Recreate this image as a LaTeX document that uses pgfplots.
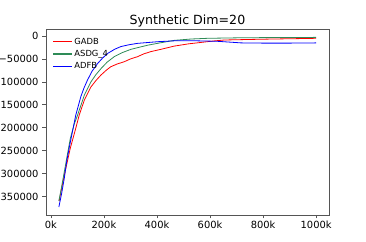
\documentclass[border=0pt]{standalone}
\usepackage{pgfplots}
\pgfplotsset{compat=1.18}
\usepackage{fontspec}
\setmainfont{DejaVu Sans}
\definecolor{mygreen}{RGB}{46,139,87}
\definecolor{spine}{RGB}{85,85,85}
\begin{document}
\begin{tikzpicture}
\begin{axis}[
  name=ax,
  scale only axis,
  width=283bp, height=186bp,
  xmin=-18500, xmax=1048500,
  ymin=-390500, ymax=15300,
  axis line style={spine, line width=0.8bp},
  every tick/.style={spine, line width=0.6bp},
  tick align=outside, tick pos=left,
  major tick length=3.5bp,
  xtick={0,200000,400000,600000,800000,1000000},
  xticklabels={0k,200k,400k,600k,800k,1000k},
  ytick={-350000,-300000,-250000,-200000,-150000,-100000,-50000,0},
  yticklabels={−350000,−300000,−250000,−200000,−150000,−100000,−50000,0},
  scaled ticks=false,
  tick label style={font=\fontsize{9.9bp}{11bp}\selectfont, text=black},
  yticklabel style={xshift=-0.5bp},
  xticklabel style={yshift=1bp},
  title={Synthetic Dim=20},
  title style={font=\fontsize{12.6bp}{14bp}\selectfont, yshift=-7.5bp},
  legend style={draw=none, fill=none, at={(0.015,0.975)}, anchor=north west,
    font=\fontsize{8.4bp}{10bp}\selectfont, row sep=0.6bp},
  legend cell align=left,
  legend image code/.code={\fill[#1, draw=none] (0bp,-0.6bp) rectangle (19bp,0.6bp);},
]
\addplot[red, line width=0.8bp] coordinates {
(31000,-360000) (50000,-305000) (73000,-245000) (92000,-205000) (107000,-172000)
(126000,-140000) (151000,-111000) (170000,-97000) (189000,-85000) (210000,-74000)
(226000,-67000) (250000,-61000) (277000,-56000) (300000,-50000) (327000,-45000)
(350000,-39000) (377000,-34000) (415000,-29000) (465000,-22000) (520000,-17000)
(566000,-14000) (610000,-11000) (654000,-8700) (750000,-7500) (842000,-6500)
(920000,-5800) (1000000,-5000)};
\addlegendentry{GADB}
\addplot[mygreen, line width=0.8bp] coordinates {
(30000,-360000) (40000,-330000) (54000,-285000) (73000,-224000) (88000,-192000)
(101000,-172000) (126000,-129000) (151000,-100000) (170000,-84000) (189000,-71000)
(212000,-57000) (239000,-45000) (270000,-36000) (302000,-29000) (365000,-20000)
(415000,-14600) (465000,-9500) (530000,-6500) (591000,-5000) (700000,-4000)
(800000,-3500) (1000000,-3000)};
\addlegendentry{ASDG\_4}
\addplot[blue, line width=0.8bp] coordinates {
(30000,-373000) (40000,-345000) (50000,-312000) (60000,-272000) (70000,-241000)
(80000,-212000) (94000,-172000) (113000,-132000) (125000,-113000) (138000,-96000)
(155000,-77000) (176000,-60000) (195000,-48000) (214000,-38000) (240000,-29000)
(264000,-23000) (295000,-19000) (327000,-16000) (403000,-12400) (465000,-10500)
(550000,-10500) (629000,-11600) (717000,-15000) (800000,-15500) (900000,-15500)
(1000000,-15000)};
\addlegendentry{ADFB}
\end{axis}
\pgfresetboundingbox
\path[use as bounding box] ([shift={(-46bp,-27bp)}]ax.south west) rectangle ([shift={(320bp,215bp)}]ax.south west);
\end{tikzpicture}
\end{document}
